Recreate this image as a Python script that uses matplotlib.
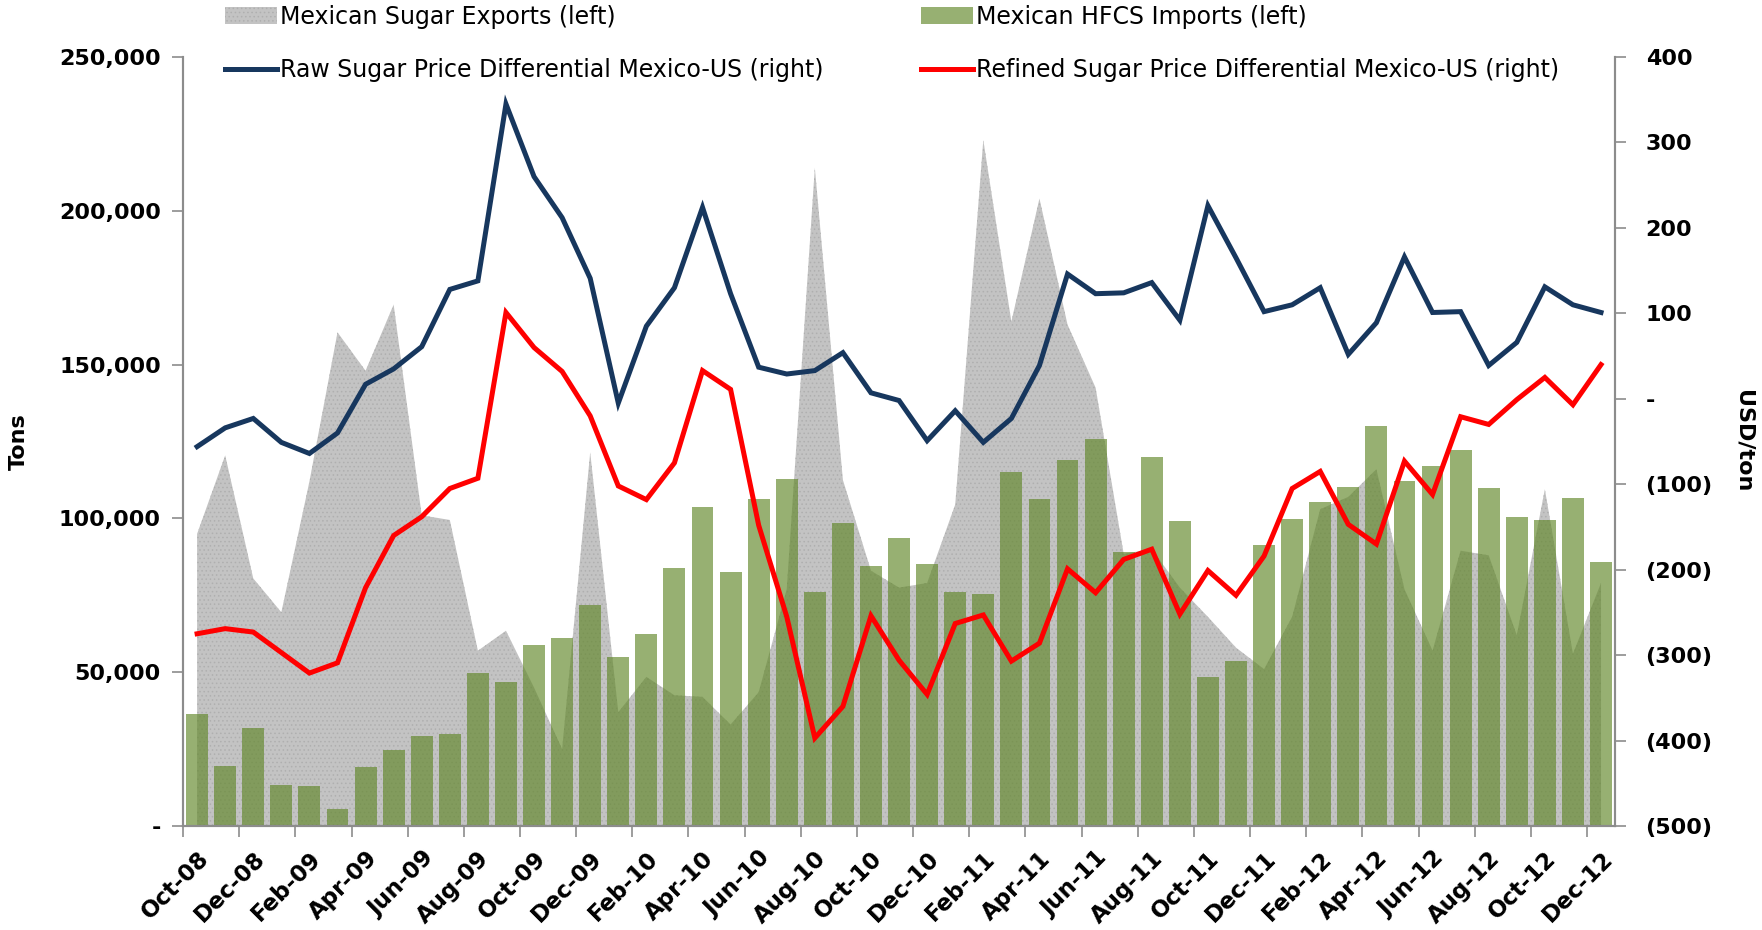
import numpy as np
import matplotlib
matplotlib.use("Agg")
import matplotlib.pyplot as plt
from matplotlib.patches import Patch
from matplotlib.lines import Line2D
from matplotlib.ticker import FuncFormatter

plt.rcParams["font.family"] = ["DejaVu Sans"]
plt.rcParams["hatch.linewidth"] = 0.6

# Oct-08 .. Dec-12, monthly (51 points); every second month is labelled
tick_labels = [
    "Oct-08", "Dec-08", "Feb-09", "Apr-09", "Jun-09", "Aug-09", "Oct-09",
    "Dec-09", "Feb-10", "Apr-10", "Jun-10", "Aug-10", "Oct-10", "Dec-10",
    "Feb-11", "Apr-11", "Jun-11", "Aug-11", "Oct-11", "Dec-11", "Feb-12",
    "Apr-12", "Jun-12", "Aug-12", "Oct-12", "Dec-12",
]

# Mexican sugar exports, tons (left)
sugar_exports = [
    95000, 120500, 80500, 69500, 112000, 160500, 148000, 169500, 101000, 99500,
    57000, 63500, 45000, 25000, 121500, 37000, 48500, 42500, 42000, 33000,
    43500, 77000, 214000, 112500, 83000, 77500, 79000, 104500, 223000, 164000,
    204000, 163000, 142500, 88500, 90000, 77500, 68000, 58000, 51000, 68000,
    103000, 107000, 116000, 77000, 57000, 89500, 88000, 62000, 109500, 56000,
    79000,
]

# Mexican HFCS imports, tons (left)
hfcs_imports = [
    36500, 19600, 31800, 13300, 13000, 5400, 19200, 24600, 29300, 29800,
    49600, 46700, 58800, 61200, 71800, 55100, 62300, 83800, 103800, 82600,
    106200, 112700, 76000, 98500, 84500, 93600, 85100, 76000, 75500, 115200,
    106300, 119100, 125800, 89000, 120100, 99200, 48500, 53800, 91500, 99900,
    105400, 110300, 130000, 112100, 117000, 122200, 109800, 100600, 99400, 106800,
    85900,
]

# Raw sugar price differential Mexico-US, USD/ton (right)
raw_diff = [
    -56, -34, -23, -51, -64, -40, 17, 35, 61, 128,
    138, 345, 260, 212, 141, -5, 85, 130, 224, 123,
    37, 29, 33, 54, 7, -2, -49, -14, -51, -23,
    39, 146, 123, 124, 136, 92, 226, 165, 102, 110,
    130, 52, 89, 166, 101, 102, 39, 66, 131, 110,
    101,
]

# Refined sugar price differential Mexico-US, USD/ton (right)
refined_diff = [
    -275, -269, -273, -297, -321, -309, -221, -160, -138, -105,
    -93, 101, 60, 32, -20, -102, -118, -75, 33, 11,
    -148, -255, -397, -360, -254, -306, -346, -263, -253, -307,
    -286, -199, -227, -188, -176, -252, -201, -230, -184, -105,
    -85, -147, -170, -73, -112, -21, -30, -1, 25, -7,
    40,
]

x = np.arange(len(hfcs_imports))
axis_grey = "#8C8C8C"
bar_color = (0.38, 0.53, 0.16)
bar_alpha = 0.66
area_color = "#C3C3C3"
raw_color = "#17375E"
ref_color = "#FF0000"

fig = plt.figure(figsize=(17.62, 9.30), dpi=100, facecolor="white")
ax = fig.add_axes([0.1039, 0.1118, 0.8127, 0.8269])
ax2 = ax.twinx()

# Grey area + green bars on the left axis
ax.fill_between(x, 0, sugar_exports, facecolor=area_color, edgecolor="#AFAFAF",
                hatch="....", linewidth=0, zorder=1)
ax.bar(x, hfcs_imports, width=0.78, color=bar_color, alpha=bar_alpha,
       edgecolor="none", zorder=2)

# Lines on the right axis
ax2.plot(x, raw_diff, color=raw_color, lw=3.6, solid_joinstyle="miter", zorder=3)
ax2.plot(x, refined_diff, color=ref_color, lw=3.6, solid_joinstyle="miter", zorder=3)

ax.set_xlim(-0.5, len(x) - 0.5)
ax.set_ylim(0, 250000)
ax2.set_ylim(-500, 400)
ax.set_yticks(np.arange(0, 250001, 50000))
ax2.set_yticks(np.arange(-500, 401, 100))

ax.yaxis.set_major_formatter(FuncFormatter(lambda v, p: "-" if v == 0 else f"{int(v):,}"))
ax2.yaxis.set_major_formatter(FuncFormatter(
    lambda v, p: "-" if v == 0 else (f"({int(-v)})" if v < 0 else f"{int(v)}")))

ax.set_xticks(x[::2])
ax.set_xticklabels(tick_labels, rotation=45, ha="right", rotation_mode="anchor",
                   fontsize=16.5, fontweight="bold")
ax.set_xticks(np.arange(-0.5, len(x) - 1, 2), minor=True)
ax.tick_params(axis="x", which="major", length=0, pad=15)
ax.tick_params(axis="x", which="minor", length=8, width=1.2, color=axis_grey,
               direction="out")

for a in (ax, ax2):
    a.spines["top"].set_visible(False)
    for s in ("left", "right", "bottom"):
        a.spines[s].set_color(axis_grey)
        a.spines[s].set_linewidth(1.5)
ax.tick_params(axis="y", length=8, width=1.2, color=axis_grey, labelsize=16, pad=8)
ax2.tick_params(axis="y", length=8, width=1.2, color=axis_grey, labelsize=16, pad=14)
for lab in ax.get_yticklabels() + ax2.get_yticklabels():
    lab.set_fontweight("bold")

ax.set_ylabel("Tons", fontsize=16, fontweight="bold")
ax2.set_ylabel("USD/ton", fontsize=16, fontweight="bold", rotation=270)
ax.yaxis.set_label_coords(-0.108, 0.5)
ax2.yaxis.set_label_coords(1.097, 0.5)

# Legend: two blocks placed side by side above the plot
area_h = Patch(facecolor=area_color, edgecolor="#AFAFAF", hatch="....", linewidth=0)
bar_h = Patch(facecolor=bar_color, alpha=bar_alpha, edgecolor="none")
raw_h = Line2D([], [], color=raw_color, lw=3.6)
ref_h = Line2D([], [], color=ref_color, lw=3.6)
leg_kw = dict(frameon=False, fontsize=17, handlelength=2.2, handletextpad=0.15,
              labelspacing=1.22, borderpad=0, borderaxespad=0, loc="upper left")
leg1 = fig.legend([area_h, raw_h],
                  ["Mexican Sugar Exports (left)",
                   "Raw Sugar Price Differential Mexico-US (right)"],
                  bbox_to_anchor=(225 / 1762, 1 - 5 / 930), **leg_kw)
leg2 = fig.legend([bar_h, ref_h],
                  ["Mexican HFCS Imports (left)",
                   "Refined Sugar Price Differential Mexico-US (right)"],
                  bbox_to_anchor=(921 / 1762, 1 - 5 / 930), **leg_kw)

fig.savefig("out.png", dpi=100, facecolor="white")
